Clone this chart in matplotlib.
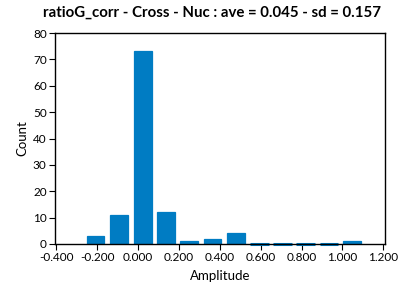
import numpy as np
import matplotlib.pyplot as plt

# bin centres and counts
centers = [-0.208, -0.092, 0.023, 0.137, 0.249, 0.364, 0.479, 0.594, 0.705, 0.818, 0.934, 1.046]
counts = [3, 11, 73, 12, 1, 2, 4, 0, 0, 0, 0, 1]
xticks = [-0.4, -0.2, 0.0, 0.2, 0.4, 0.6, 0.8, 1.0, 1.2]
yticks = [0, 10, 20, 30, 40, 50, 60, 70, 80]
title = "ratioG_corr - Cross - Nuc : ave = 0.045 - sd = 0.157"

plt.rcParams['font.family'] = ['Lato', 'DejaVu Sans']
blue = "#007cc3"
w = 0.086

fig = plt.figure(figsize=(4.08, 2.87), dpi=100)
ax = fig.add_axes([55 / 408, 43 / 287, 330 / 408, 211 / 287])

ax.bar(centers, counts, width=w, color=blue, edgecolor=blue, linewidth=0.9)

# empty bins still show a thin sliver on the axis
c = np.array(centers)
zero = np.array(counts) == 0
ax.hlines(np.zeros(zero.sum()), c[zero] - w / 2 - 0.003, c[zero] + w / 2 + 0.003,
          colors=blue, linewidth=2.2, clip_on=False, zorder=2)

ax.set_xlim(-0.406, 1.208)
ax.set_ylim(0, 80)
ax.set_xticks(xticks)
ax.set_xticklabels(["%.3f" % v for v in xticks])
ax.set_yticks(yticks)
ax.tick_params(direction="out", length=4, width=0.8, labelsize=8.5, pad=2)
for s in ax.spines.values():
    s.set_linewidth(1.0)
    s.set_color("black")

ax.set_xlabel("Amplitude", fontsize=9.5, labelpad=5)
ax.set_ylabel("Count", fontsize=9.5, labelpad=3)
fig.text(212 / 408, 1 - 13 / 287, title, ha="center", va="center",
         fontsize=10.8, fontweight="bold")

fig.savefig("out.png", dpi=100)
